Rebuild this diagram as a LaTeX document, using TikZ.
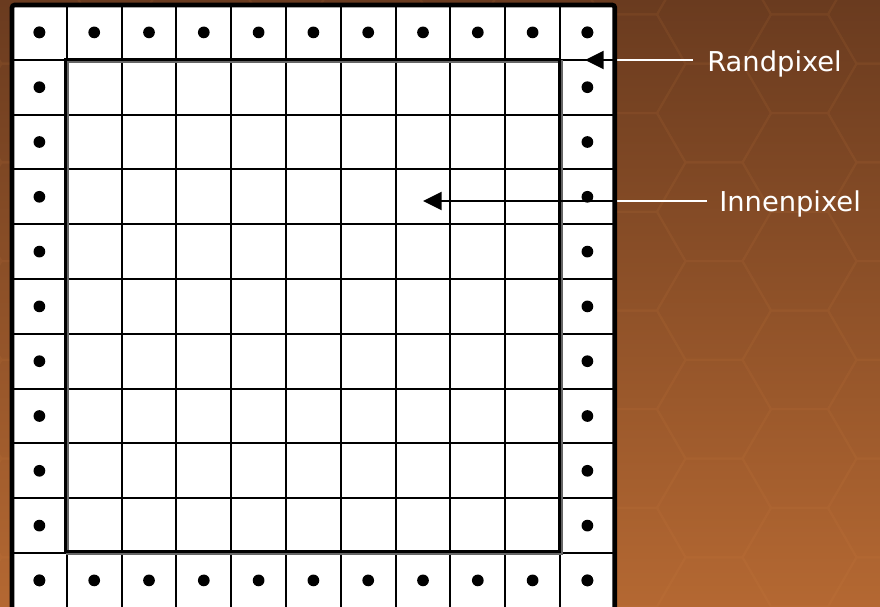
\documentclass[tikz,border=0pt]{standalone}
\usepackage{fontspec}
\newfontfamily\beschriftfont{DejaVu Sans}
\usepackage{tikz}
\usetikzlibrary{arrows.meta, calc}
\definecolor{hintergrundoben}{RGB}{106,59,31}
\definecolor{hintergrundunten}{RGB}{180,104,50}
\definecolor{wabenlinie}{RGB}{215,135,70}

\begin{document}
\begin{tikzpicture}[
    x=0.75pt, y=-0.75pt,
    gitter/.style={line width=1.5pt},
    rahmen/.style={line width=3.5pt, rounded corners=2pt},
    innenrahmen/.style={line width=2.3pt},
    pfeil/.style={-{Triangle[length=14pt, width=13.5pt]}, line width=1.5pt},
    zuleitung/.style={white, line width=1.5pt},
    beschriftung/.style={text=white, font=\beschriftfont\fontsize{20.5}{24}\selectfont,
                         inner sep=0pt, anchor=base west},
    wabe/.style={wabenlinie, line width=1.5pt}
  ]
    \def\zelle{54.8}
    \useasboundingbox (0,0) rectangle (880,606);
    \shade[top color=hintergrundoben, bottom color=hintergrundunten] (0,0) rectangle (880,606);
    % Wabenmuster im Hintergrund
    \begin{scope}[transparency group, opacity=0.1]
      \clip (0,0) rectangle (880,606);
      \foreach \k in {0,...,11}
        \foreach \m in {-4,...,3} {
          \pgfmathsetmacro\cx{714+85.5*(\k-8)}
          \pgfmathsetmacro\cy{310.5+98.7*\m+49.35*mod(\k,2)}
          \draw[wabe] (\cx+57,\cy) -- (\cx+28.5,\cy+49.35) -- (\cx-28.5,\cy+49.35)
            -- (\cx-57,\cy) -- (\cx-28.5,\cy-49.35) -- (\cx+28.5,\cy-49.35) -- cycle;
        }
    \end{scope}
    % Pixelraster
    \fill[white] (12,5) rectangle (614.8,612);
    \foreach \i in {1,...,10} {
      \draw[gitter] ({12+\i*\zelle},5) -- ({12+\i*\zelle},612);
      \draw[gitter] (12,{5+\i*\zelle}) -- (614.8,{5+\i*\zelle});
    }
    \draw[innenrahmen, black!60, line width=2.6pt] (67.5,61.5) rectangle (561.5,553.5);
    \draw[innenrahmen] (65.5,59.5) rectangle (559.5,551.5);
    % Randpixel markieren
    \foreach \i in {0,...,10} {
      \fill ({12+(\i+0.5)*\zelle},{5+0.5*\zelle}) circle[radius=4.4pt];
      \fill ({12+(\i+0.5)*\zelle},{5+10.5*\zelle}) circle[radius=4.4pt];
      \fill ({12+0.5*\zelle},{5+(\i+0.5)*\zelle}) circle[radius=4.4pt];
      \fill ({12+10.5*\zelle},{5+(\i+0.5)*\zelle}) circle[radius=4.4pt];
    }
    % Beschriftungen
    \coordinate (randspitze) at (585,60);
    \coordinate (randkante) at (614.8,60);
    \coordinate (innenspitze) at (423,201);
    \coordinate (innenkante) at (614.8,201);
    \node[beschriftung] (randtext) at (707,72) {Randpixel};
    \node[beschriftung] (innentext) at (719,211) {Innenpixel};
    \draw[zuleitung] ($(randtext.west |- randkante)+(-14,0)$) -- (randkante);
    \draw[zuleitung] ($(innentext.west |- innenkante)+(-12,0)$) -- (innenkante);
    \draw[pfeil] (randkante) -- (randspitze);
    \draw[pfeil] (innenkante) -- (innenspitze);
    \draw[rahmen] (12,5) rectangle (614.8,614);
  \end{tikzpicture}
\end{document}
